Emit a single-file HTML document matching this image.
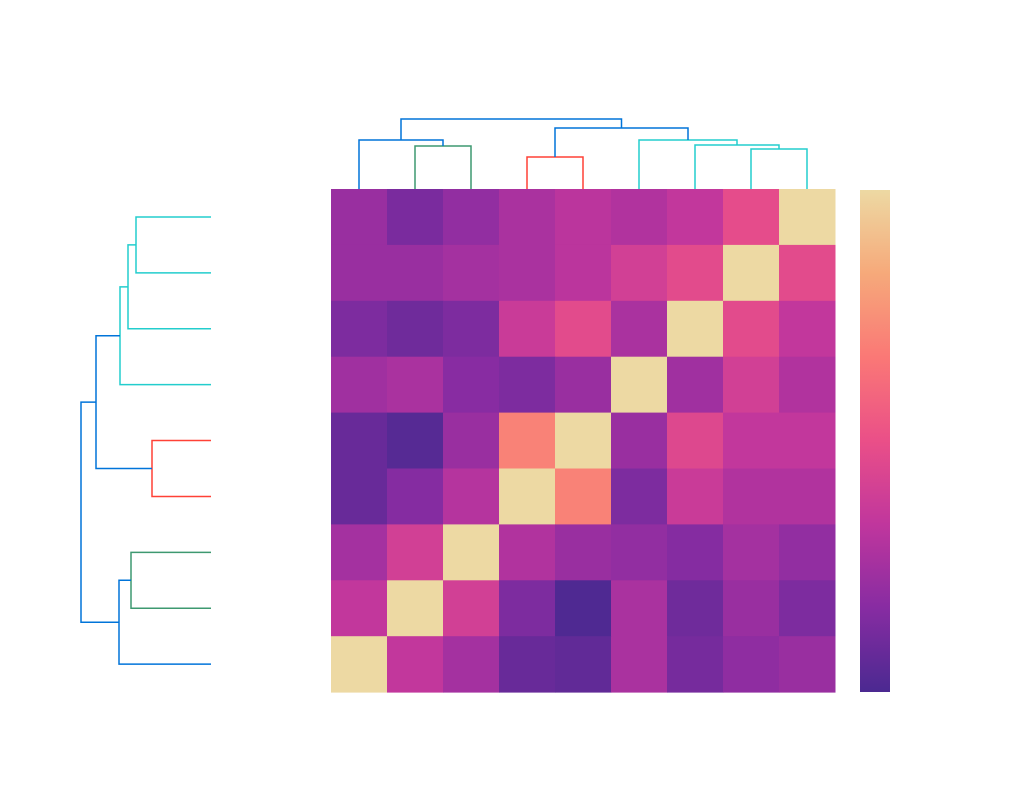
<!DOCTYPE html>
<html><head><meta charset="utf-8"><style>
html,body{margin:0;padding:0;background:#fff;}
svg{display:block;font-family:"Liberation Sans",sans-serif;}
</style></head>
<body>
<svg id="chart" width="1035" height="800">
<defs>
<linearGradient id="cbgrad" x1="0" y1="1" x2="0" y2="0">
<stop offset="0" stop-color="rgb(75,41,145)"/>
<stop offset="0.1667" stop-color="rgb(135,44,162)"/>
<stop offset="0.3333" stop-color="rgb(192,54,157)"/>
<stop offset="0.5" stop-color="rgb(234,79,136)"/>
<stop offset="0.6667" stop-color="rgb(250,120,118)"/>
<stop offset="0.8333" stop-color="rgb(246,169,122)"/>
<stop offset="1" stop-color="rgb(237,217,163)"/>
</linearGradient>
</defs>
<g id="heat"></g>
<g id="topd"></g>
<g id="leftd"></g>
<rect x="860" y="190" width="30" height="502" fill="url(#cbgrad)"/>
</svg>
<script>
const matrix = [
[0.22,0.13,0.20,0.27,0.32,0.29,0.34,0.48,1.00],
[0.22,0.22,0.25,0.27,0.32,0.40,0.47,1.00,0.47],
[0.14,0.10,0.14,0.37,0.47,0.27,1.00,0.47,0.34],
[0.24,0.27,0.17,0.14,0.22,1.00,0.24,0.40,0.29],
[0.08,0.03,0.22,0.70,1.00,0.22,0.45,0.34,0.34],
[0.08,0.16,0.30,1.00,0.70,0.14,0.37,0.29,0.29],
[0.25,0.40,1.00,0.29,0.22,0.20,0.16,0.25,0.20],
[0.34,1.00,0.40,0.14,0.01,0.27,0.10,0.22,0.14],
[1.00,0.34,0.25,0.08,0.06,0.27,0.12,0.19,0.22]
];
const stops = [[75,41,145],[135,44,162],[192,54,157],[234,79,136],[250,120,118],[246,169,122],[237,217,163]];
const topLinks = [
[1,2,0,0,43,'rgb(61,153,112)'],
[0,1.5,0,43,49,'rgb(0,116,217)'],
[3,4,0,0,32,'rgb(255,65,54)'],
[7,8,0,0,40,'rgb(35,205,205)'],
[6,7.5,0,40,44,'rgb(35,205,205)'],
[5,6.75,0,44,49,'rgb(35,205,205)'],
[3.5,5.875,32,49,61,'rgb(0,116,217)'],
[0.75,4.6875,49,61,70,'rgb(0,116,217)']
];
const leftLinks = [
[0,1,0,0,75,'rgb(35,205,205)'],
[0.5,2,75,0,83,'rgb(35,205,205)'],
[1.25,3,83,0,91,'rgb(35,205,205)'],
[4,5,0,0,59,'rgb(255,65,54)'],
[6,7,0,0,80,'rgb(61,153,112)'],
[6.5,8,80,0,92,'rgb(0,116,217)'],
[2.125,4.5,91,59,115,'rgb(0,116,217)'],
[3.3125,7.25,115,92,130,'rgb(0,116,217)']
];
const X0=331,Y0=189,CW=56,CH=55.9;
function colorFor(v){
  const t=Math.max(0,Math.min(1,v))*(stops.length-1);
  const i=Math.min(Math.floor(t),stops.length-2), f=t-i;
  const c=stops[i].map((a,k)=>Math.round(a+(stops[i+1][k]-a)*f));
  return 'rgb('+c.join(',')+')';
}
const NS='http://www.w3.org/2000/svg';
const heat=document.getElementById('heat');
matrix.forEach((row,r)=>row.forEach((v,c)=>{
  const el=document.createElementNS(NS,'rect');
  el.setAttribute('x',X0+c*CW);el.setAttribute('y',Y0+r*CH);
  el.setAttribute('width',CW+0.5);el.setAttribute('height',CH+0.5);
  el.setAttribute('fill',colorFor(v));
  
  
  heat.appendChild(el);
}));
const topG=document.getElementById('topd');
topLinks.forEach(l=>{
  const xa=X0+CW*(l[0]+0.5), xb=X0+CW*(l[1]+0.5);
  const p=document.createElementNS(NS,'path');
  p.setAttribute('d',`M${xa},${Y0-l[2]}V${Y0-l[4]}H${xb}V${Y0-l[3]}`);
  p.setAttribute('fill','none');p.setAttribute('stroke',l[5]);p.setAttribute('stroke-width','1.5');
  
  
  topG.appendChild(p);
});
const leftG=document.getElementById('leftd');
const LX=211;
leftLinks.forEach(l=>{
  const ya=Y0+CH*(l[0]+0.5), yb=Y0+CH*(l[1]+0.5);
  const p=document.createElementNS(NS,'path');
  p.setAttribute('d',`M${LX-l[2]},${ya}H${LX-l[4]}V${yb}H${LX-l[3]}`);
  p.setAttribute('fill','none');p.setAttribute('stroke',l[5]);p.setAttribute('stroke-width','1.5');
  
  
  leftG.appendChild(p);
});
</script>
</body></html>
